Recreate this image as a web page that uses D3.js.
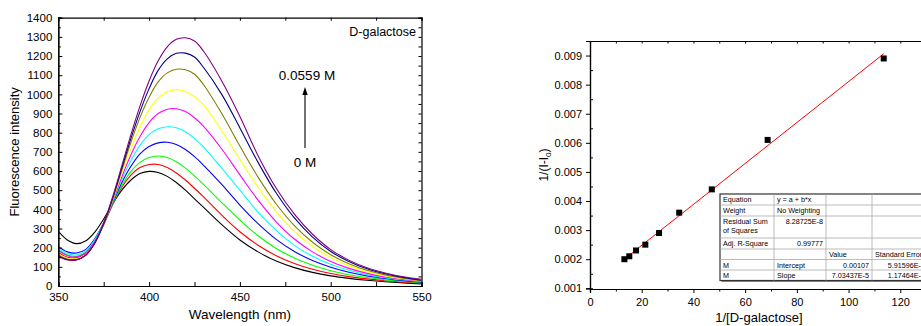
<!DOCTYPE html>
<html><head><meta charset="utf-8">
<script src="https://cdn.jsdelivr.net/npm/d3@7"></script>
<style>
body{margin:0;background:#fff;}
svg text{font-family:"Liberation Sans",Arial,sans-serif;fill:#000;}
</style></head>
<body><svg id="c" width="921" height="326"></svg>
<script>
// ---------- Left chart data ----------
const wavelengths = [350,355,360,365,370,375,380,385,390,395,400,405,410,415,420,425,430,440,450,460,470,480,490,500,510,520,530,540,550];
const seriesColors = ["#000000","#ff0000","#00ff00","#0000ff","#00ffff","#ff00ff","#ffff00","#808000","#000080","#800080"];
const s0 = [285,240,221,235,280,350,430,500,553,587,598,592,572,540,500,455,410,320,240,178,130,96,71,53,40,30,22,16,11];
const s1 = [175,150,148,170,230,320,425,515,578,618,634,634,618,590,553,510,465,370,283,213,158,117,87,65,49,37,27,20,14];
const s2 = [190,162,155,175,235,325,430,525,598,645,670,678,670,648,615,575,530,435,344,262,196,146,108,80,59,44,32,24,17];
const s3 = [207,178,172,190,245,330,435,540,625,690,728,747,750,738,712,675,630,530,422,325,243,180,133,98,72,53,39,28,20];
const s4 = [198,168,163,182,240,330,440,555,655,735,790,820,831,826,805,770,725,615,500,385,290,212,155,113,82,59,43,31,22];
const s5 = [185,158,152,172,232,325,445,570,685,780,853,900,922,925,910,878,833,715,580,448,335,245,178,128,92,66,47,34,24];
const s6 = [168,145,142,163,225,325,450,588,718,830,920,980,1013,1024,1015,988,945,810,660,515,388,285,207,148,105,75,53,38,26];
const s7 = [162,140,138,160,222,322,455,605,750,880,985,1065,1112,1131,1128,1105,1050,900,730,568,428,315,228,163,116,82,58,41,28];
const s8 = [158,138,137,160,222,325,460,615,770,910,1030,1125,1185,1214,1215,1195,1140,1000,825,645,485,355,255,180,128,90,64,45,30];
const s9 = [155,136,136,160,225,330,468,628,790,940,1070,1175,1248,1287,1295,1278,1225,1070,885,680,510,375,270,190,135,95,68,48,35];
const spectra = [s0,s1,s2,s3,s4,s5,s6,s7,s8,s9];
const leftYTicks = [0,100,200,300,400,500,600,700,800,900,1000,1100,1200,1300,1400];
const leftXTicks = [350,400,450,500,550];

// ---------- Right chart data ----------
const invConc = [13.3,15.2,17.8,21.4,26.7,34.5,47.1,68.7,113.6];
const invDelta = [0.00200,0.00210,0.00230,0.00250,0.00290,0.00360,0.00440,0.00610,0.00890];
const fitIntercept = 0.00107;
const fitSlope = 7.03437e-5;
const rightYTicks = [0.001,0.002,0.003,0.004,0.005,0.006,0.007,0.008,0.009];
const rightXTicks = [0,20,40,60,80,100,120];
const tableRows = [
  ["Equation","y = a + b*x","",""],
  ["Weight","No Weighting","",""],
  ["Residual Sum|of Squares","8.28725E-8","",""],
  ["Adj. R-Square","0.99777","",""],
  ["","","Value","Standard Error"],
  ["M","Intercept","0.00107","5.91596E-5"],
  ["M","Slope","7.03437E-5","1.17464E-6"]
];

const svg = d3.select("#c");

// ================= LEFT CHART =================
const L = {l:58.3, r:421.5, t:17.7, b:286};
const lx = d3.scaleLinear().domain([350,550]).range([L.l,L.r]);
const ly = d3.scaleLinear().domain([0,1400]).range([L.b,L.t]);
const gL = svg.append("g");

svg.append("clipPath").attr("id","clipL").append("rect")
  .attr("x",L.l).attr("y",L.t).attr("width",L.r-L.l).attr("height",L.b-L.t);

const line = d3.line().x((d,i)=>lx(wavelengths[i])).y(d=>ly(d)).curve(d3.curveCatmullRom.alpha(0.5));
gL.append("g").attr("clip-path","url(#clipL)").selectAll("path").data(spectra).join("path")
  .attr("d",d=>line(d)).attr("fill","none")
  .attr("stroke",(d,i)=>seriesColors[i]).attr("stroke-width",1.1);

gL.append("g").attr("transform",`translate(${L.l},0)`)
  .call(d3.axisLeft(ly).tickValues(leftYTicks).tickSize(-4).tickPadding(6).tickFormat(d3.format("d")));
gL.append("g").attr("transform",`translate(${L.l},0)`)
  .call(d3.axisLeft(ly).tickValues(d3.range(50,1400,100)).tickSize(-2.5).tickFormat(""));
gL.append("g").attr("transform",`translate(0,${L.b})`)
  .call(d3.axisBottom(lx).tickValues(leftXTicks).tickSize(-4).tickPadding(7).tickFormat(d3.format("d")));
gL.append("g").attr("transform",`translate(0,${L.b})`)
  .call(d3.axisBottom(lx).tickValues([375,425,475,525]).tickSize(-4).tickFormat(""));
gL.append("g").attr("transform",`translate(0,${L.t})`)
  .call(d3.axisTop(lx).tickValues(d3.range(350,551,25)).tickSize(-3).tickFormat(""));
gL.append("g").attr("transform",`translate(${L.r},0)`)
  .call(d3.axisRight(ly).tickValues(d3.range(0,1401,50)).tickSize(-3).tickFormat(""));
gL.selectAll(".domain").attr("stroke","#000").attr("stroke-width",1.2);
gL.selectAll(".tick line").attr("stroke","#000");
gL.selectAll(".tick text").attr("font-size",11.5).attr("font-family","Liberation Sans, Arial, sans-serif");

gL.append("text").attr("transform",`translate(19,${(L.t+L.b)/2}) rotate(-90)`)
  .attr("text-anchor","middle").attr("font-size",13).text("Fluorescence intensity");
gL.append("text").attr("x",(L.l+L.r)/2).attr("y",319).attr("text-anchor","middle")
  .attr("font-size",13.5).text("Wavelength (nm)");
gL.append("text").attr("x",416).attr("y",36).attr("text-anchor","end").attr("font-size",12.5).text("D-galactose");
gL.append("text").attr("x",307).attr("y",80).attr("text-anchor","middle").attr("font-size",13.5).text("0.0559 M");
gL.append("text").attr("x",305).attr("y",167).attr("text-anchor","middle").attr("font-size",13.5).text("0 M");
gL.append("line").attr("x1",305).attr("x2",305).attr("y1",148).attr("y2",93).attr("stroke","#000").attr("stroke-width",1.1);
gL.append("path").attr("d","M305,87 L302.3,95 L307.7,95 Z").attr("fill","#000");

// ================= RIGHT CHART =================
const R = {l:590, r:952, t:41, b:289};
const rx = d3.scaleLinear().domain([0,140]).range([R.l,R.r]);
const ry = d3.scaleLinear().domain([0.001,0.0095]).range([R.b-0.7,R.t]);
const gR = svg.append("g");

gR.append("g").attr("transform",`translate(${R.l},0)`)
  .call(d3.axisLeft(ry).tickValues(rightYTicks).tickSize(4).tickPadding(4).tickFormat(d3.format(".3f")));
gR.append("g").attr("transform",`translate(${R.l},0)`)
  .call(d3.axisLeft(ry).tickValues(d3.range(0.0015,0.0095,0.001)).tickSize(-3).tickFormat(""));
gR.append("g").attr("transform",`translate(0,${R.b})`)
  .call(d3.axisBottom(rx).tickValues(rightXTicks).tickSize(4).tickPadding(5).tickFormat(d3.format("d")));
gR.append("g").attr("transform",`translate(0,${R.b})`)
  .call(d3.axisBottom(rx).tickValues([10,30,50,70,90,110,130,140]).tickSize(2.5).tickFormat(""));
gR.append("g").attr("transform",`translate(0,${R.t})`)
  .call(d3.axisTop(rx).tickValues(d3.range(0,141,10)).tickSize(-2.5).tickFormat(""));
gR.selectAll(".domain").attr("stroke","#000").attr("stroke-width",1.2);
gR.selectAll(".tick line").attr("stroke","#000");
gR.selectAll(".tick text").attr("font-size",11).attr("font-family","Liberation Sans, Arial, sans-serif");

const xr = d3.extent(invConc);
gR.append("line").attr("x1",rx(xr[0])).attr("y1",ry(fitIntercept+fitSlope*xr[0]))
  .attr("x2",rx(xr[1])).attr("y2",ry(fitIntercept+fitSlope*xr[1]))
  .attr("stroke","#ff0000").attr("stroke-width",1);
gR.selectAll("rect.pt").data(invConc).join("rect").attr("class","pt")
  .attr("x",(d)=>rx(d)-3).attr("y",(d,i)=>ry(invDelta[i])-3).attr("width",6).attr("height",6).attr("fill","#000");

// fit table
const colX = [720,774,826,872,928];
const rowH = [11,11,22,11,10.5,10.5,10.5];
const tTop = 194;
const tg = gR.append("g");
let rowY = [tTop];
rowH.forEach(h=>rowY.push(rowY[rowY.length-1]+h));
tg.append("rect").attr("x",colX[0]+1.5).attr("y",tTop+1.5).attr("width",colX[4]-colX[0]).attr("height",rowY[7]-tTop).attr("fill","#888");
tg.append("rect").attr("x",colX[0]).attr("y",tTop).attr("width",colX[4]-colX[0]).attr("height",rowY[7]-tTop).attr("fill","#fff").attr("stroke","#333").attr("stroke-width",1.2);
rowY.slice(1,7).forEach(y=>tg.append("line").attr("x1",colX[0]).attr("x2",colX[4]).attr("y1",y).attr("y2",y).attr("stroke","#aaa").attr("stroke-width",0.8));
colX.slice(1,4).forEach(x=>tg.append("line").attr("x1",x).attr("x2",x).attr("y1",tTop).attr("y2",rowY[7]).attr("stroke","#aaa").attr("stroke-width",0.8));
tableRows.forEach((row,ri)=>{
  row.forEach((txt,ci)=>{
    if(!txt) return;
    const numeric = /^[0-9]/.test(txt);
    const lines = txt.split("|");
    const t = tg.append("text").attr("font-size",7.2);
    lines.forEach((ln,k)=>{
      t.append("tspan").attr("x", numeric ? colX[ci+1]-3 : colX[ci]+3)
        .attr("y", rowY[ri]+8 + k*9).text(ln);
    });
    t.attr("text-anchor", numeric ? "end":"start");
  });
});

gR.append("text").attr("x",759).attr("y",322).attr("text-anchor","middle").attr("font-size",13).text("1/[D-galactose]");
const yl = gR.append("text").attr("transform",`translate(548,165) rotate(-90)`).attr("text-anchor","middle").attr("font-size",12);
yl.append("tspan").text("1/(I-I");
yl.append("tspan").attr("font-size",8).attr("dy",3).text("0");
yl.append("tspan").attr("dy",-3).text(")");
</script></body></html>
